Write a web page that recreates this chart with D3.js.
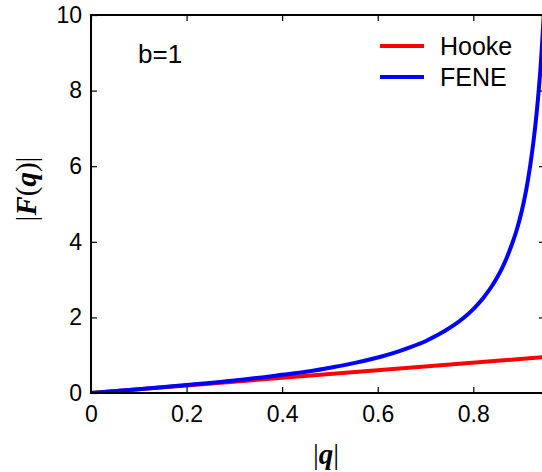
<!DOCTYPE html>
<html>
<head>
<meta charset="utf-8">
<script src="https://cdn.jsdelivr.net/npm/d3@7"></script>
<style>
  html, body { margin: 0; padding: 0; background: #fff; }
  svg { display: block; }
  text { font-family: "Liberation Sans", Arial, sans-serif; fill: #000; }
</style>
</head>
<body>
<svg id="chart" width="542" height="472"></svg>
<script>
// ---- data ----
const xTicks = [0, 0.2, 0.4, 0.6, 0.8];
const yTicks = [0, 2, 4, 6, 8, 10];
const seriesNames = ["Hooke", "FENE"];
const seriesColors = ["#ff0000", "#0000ff"];
const hookeQ = [0, 0.95];
const hookeF = [0, 0.95];
const feneQ = [0, 0.1, 0.2, 0.3, 0.4, 0.45, 0.5, 0.55, 0.6, 0.62, 0.65, 0.67, 0.7, 0.72, 0.74, 0.76, 0.78, 0.8, 0.82, 0.84, 0.85, 0.86, 0.87, 0.88, 0.89, 0.9, 0.91, 0.92, 0.93, 0.94, 0.95];
const feneF = [0, 0.10, 0.21, 0.33, 0.48, 0.56, 0.67, 0.79, 0.94, 1.01, 1.13, 1.22, 1.37, 1.50, 1.64, 1.80, 1.99, 2.22, 2.50, 2.85, 3.06, 3.30, 3.58, 3.91, 4.28, 4.74, 5.33, 6.10, 7.10, 8.50, 10.6];
const annotation = "b=1";

const svg = d3.select("#chart");
const L = 91, T = 15, B = 393, R = 545;
const x = d3.scaleLinear().domain([0, 0.95]).range([L, R]);
const y = d3.scaleLinear().domain([0, 10]).range([B, T]);

svg.append("defs").append("clipPath").attr("id", "clip")
  .append("rect").attr("x", L).attr("y", T).attr("width", R - L).attr("height", B - T);

const line = d3.line().x(d => x(d[0])).y(d => y(d[1])).curve(d3.curveCatmullRom.alpha(0.5));
const hooke = hookeQ.map((q, i) => [q, hookeF[i]]);
const fene = feneQ.map((q, i) => [q, feneF[i]]);

const g = svg.append("g").attr("clip-path", "url(#clip)");
g.append("path").datum(hooke).attr("d", line).attr("fill", "none")
  .attr("stroke", seriesColors[0]).attr("stroke-width", 4);
g.append("path").datum(fene).attr("d", line).attr("fill", "none")
  .attr("stroke", seriesColors[1]).attr("stroke-width", 4);

// axes
const fs = "23px";
const ax = svg.append("g").attr("transform", `translate(0,${B})`)
  .call(d3.axisBottom(x).tickValues(xTicks).tickSizeInner(-6).tickSizeOuter(0).tickPadding(13).tickFormat(d => String(d)));
ax.selectAll("text").style("font-size", fs).attr("font-family", null);
const ay = svg.append("g").attr("transform", `translate(${L},0)`)
  .call(d3.axisLeft(y).tickValues(yTicks).tickSizeInner(-6).tickSizeOuter(0).tickPadding(9).tickFormat(d => String(d)));
ay.selectAll("text").style("font-size", fs).attr("font-family", null);
const at = svg.append("g").attr("transform", `translate(0,${T})`)
  .call(d3.axisTop(x).tickValues(xTicks).tickSizeInner(-6).tickSizeOuter(0).tickFormat(""));
const ar = svg.append("g").attr("transform", `translate(${R},0)`)
  .call(d3.axisRight(y).tickValues(yTicks).tickSizeInner(-6).tickSizeOuter(0).tickFormat(""));
[ax, ay, at, ar].forEach(a => {
  a.select(".domain").remove();
  a.selectAll("line").attr("stroke", "#000").attr("stroke-width", 1.2);
});
svg.append("rect").attr("x", L).attr("y", T).attr("width", R - L).attr("height", B - T)
  .attr("fill", "none").attr("stroke", "#000").attr("stroke-width", 2);

// annotation
svg.append("text").attr("x", 138).attr("y", 63).style("font-size", "26px").text(annotation);

// legend
const legY = [46, 77];
seriesNames.forEach((n, i) => {
  svg.append("line").attr("x1", 380).attr("x2", 424).attr("y1", legY[i]).attr("y2", legY[i])
    .attr("stroke", seriesColors[i]).attr("stroke-width", 4);
  svg.append("text").attr("x", 440).attr("y", legY[i] + 9).style("font-size", "25px").text(n);
});

// axis labels
const serif = "'Liberation Serif', 'Times New Roman', serif";
const xl = svg.append("text").attr("x", 326).attr("y", 464).attr("text-anchor", "middle")
  .style("font-family", serif).style("font-size", "29px");
xl.append("tspan").text("|");
xl.append("tspan").style("font-weight", "bold").style("font-style", "italic").text("q");
xl.append("tspan").text("|");

const yl = svg.append("text").attr("transform", "translate(36,189) rotate(-90)").attr("text-anchor", "middle")
  .style("font-family", serif).style("font-size", "29px");
yl.append("tspan").text("|");
yl.append("tspan").style("font-weight", "bold").style("font-style", "italic").text("F");
yl.append("tspan").text("(");
yl.append("tspan").style("font-weight", "bold").style("font-style", "italic").text("q");
yl.append("tspan").text(")|");
</script>
</body>
</html>
